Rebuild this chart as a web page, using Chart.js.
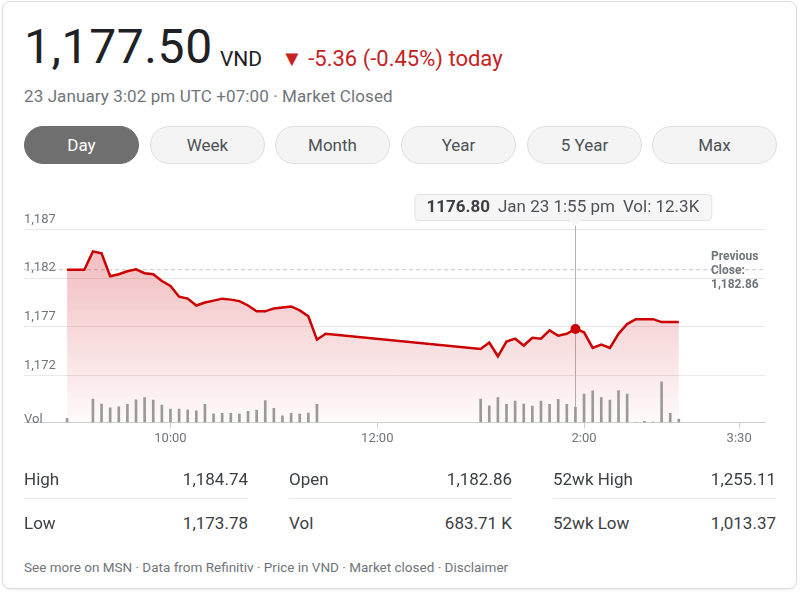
<!DOCTYPE html>
<html>
<head>
<meta charset="utf-8">
<script src="https://cdn.jsdelivr.net/npm/chart.js@4.4.1/dist/chart.umd.min.js"></script>
<style>
  body { margin: 0; width: 800px; height: 593px; background: #fff; font-family: Roboto, sans-serif; position: relative; overflow: hidden; }
  .card { position: absolute; left: 2px; top: 1px; width: 793px; height: 586px; border: 1px solid #dcdcdc; border-radius: 8px; box-shadow: 0 1px 2px rgba(0,0,0,0.08); }
  .price { position: absolute; left: 24px; top: 18px; font-size: 48px; color: #202124; letter-spacing: 0.6px; }
  .cur { position: absolute; left: 220px; top: 47px; font-size: 21px; color: #202124; }
  .chg { position: absolute; left: 281px; top: 46px; font-size: 22px; color: #c5221f; }
  .sub { position: absolute; left: 24px; top: 86px; font-size: 17px; color: #70757a; letter-spacing: 0.1px; }
  .btn { position: absolute; top: 126px; height: 36px; width: 113px; border: 1px solid #e0e0e0; border-radius: 19px; background: #f4f4f4; color: #4d5156; font-size: 17px; text-align: center; line-height: 36px; }
  .btn.on { background: #6f6f6f; border-color: #6f6f6f; color: #fff; }
  #wrap { position: absolute; left: 0; top: 180px; width: 800px; height: 270px; }
  .vol { position: absolute; left: 24px; top: 411px; font-size: 13px; color: #70757a; }
  .prev { position: absolute; left: 711px; top: 249px; font-size: 12px; font-weight: bold; color: #70757a; line-height: 14px; }
  .st { position: absolute; font-size: 17px; color: #3c4043; }
  .r { text-align: right; }
  .sep { position: absolute; top: 498px; height: 1px; background: #ececec; }
  .foot { position: absolute; left: 24px; top: 559px; font-size: 13.5px; color: #70757a; }
</style>
</head>
<body>
<div class="card"></div>
<div class="price">1,177.50</div>
<div class="cur">VND</div>
<div class="chg">&#9660; -5.36 (-0.45%) today</div>
<div class="sub">23 January 3:02 pm UTC +07:00 · Market Closed</div>

<div class="btn on" style="left:24px">Day</div>
<div class="btn" style="left:150px">Week</div>
<div class="btn" style="left:275px">Month</div>
<div class="btn" style="left:401px">Year</div>
<div class="btn" style="left:527px">5 Year</div>
<div class="btn" style="left:652px;width:123px">Max</div>

<div id="wrap"><canvas id="c" width="800" height="270"></canvas></div>
<div class="vol">Vol</div>
<div class="prev">Previous<br>Close:<br>1,182.86</div>

<div class="st" style="left:24px;top:469px">High</div>
<div class="st r" style="left:148px;width:100px;top:469px">1,184.74</div>
<div class="st" style="left:289px;top:469px">Open</div>
<div class="st r" style="left:412px;width:100px;top:469px">1,182.86</div>
<div class="st" style="left:553px;top:469px">52wk High</div>
<div class="st r" style="left:676px;width:100px;top:469px">1,255.11</div>
<div class="sep" style="left:24px;width:224px"></div>
<div class="sep" style="left:289px;width:223px"></div>
<div class="sep" style="left:553px;width:223px"></div>
<div class="st" style="left:24px;top:513px">Low</div>
<div class="st r" style="left:148px;width:100px;top:513px">1,173.78</div>
<div class="st" style="left:289px;top:513px">Vol</div>
<div class="st r" style="left:412px;width:100px;top:513px">683.71 K</div>
<div class="st" style="left:553px;top:513px">52wk Low</div>
<div class="st r" style="left:676px;width:100px;top:513px">1,013.37</div>

<div class="foot">See more on MSN · Data from Refinitiv · Price in VND · Market closed · Disclaimer</div>

<script>
const priceTimes = [
  "9:00", "9:05", "9:10", "9:15", "9:20", "9:25", "9:30", "9:35", "9:40", "9:45",
  "9:50", "9:55", "10:00", "10:05", "10:10", "10:15", "10:20", "10:25", "10:30", "10:35",
  "10:40", "10:45", "10:50", "10:55", "11:00", "11:05", "11:10", "11:15", "11:20", "11:25",
  "11:30",
  "13:00", "13:05", "13:10", "13:15", "13:20", "13:25", "13:30", "13:35", "13:40", "13:45",
  "13:50", "13:55", "14:00", "14:05", "14:10", "14:15", "14:20", "14:25", "14:30", "14:35",
  "14:40", "14:45", "14:50", "14:55",
];
const priceValues = [
  1182.86, 1182.86, 1182.86, 1184.74, 1184.55, 1182.2, 1182.4, 1182.7, 1182.9, 1182.5,
  1182.4, 1181.7, 1181.2, 1180.1, 1179.9, 1179.2, 1179.5, 1179.7, 1179.9, 1179.8,
  1179.65, 1179.2, 1178.6, 1178.6, 1178.9, 1179.0, 1179.1, 1178.7, 1178.1, 1175.7,
  1176.3,
  1174.75, 1175.4, 1174.0, 1175.5, 1175.8, 1175.1, 1175.9, 1175.8, 1176.65, 1176.1,
  1176.3, 1176.8, 1176.45, 1174.85, 1175.2, 1174.85, 1176.3, 1177.3, 1177.8, 1177.8,
  1177.8, 1177.5, 1177.5, 1177.5,
];
// volume in thousands
const volTimes = [
  "9:00", "9:15", "9:20", "9:25", "9:30", "9:35", "9:40", "9:45", "9:50", "9:55",
  "10:00", "10:05", "10:10", "10:15", "10:20", "10:25", "10:30", "10:35", "10:40", "10:45",
  "10:50", "10:55", "11:00", "11:05", "11:10", "11:15", "11:20", "11:25",
  "13:00", "13:05", "13:10", "13:15", "13:20", "13:25", "13:30", "13:35", "13:40", "13:45",
  "13:50", "13:55", "14:00", "14:05", "14:10", "14:15", "14:20", "14:25", "14:30", "14:35",
  "14:40", "14:45", "14:50", "14:55",
];
const volValues = [
  3.3, 19.1, 15.0, 12.0, 12.8, 14.8, 18.5, 20.5, 18.3, 14.2,
  10.9, 10.9, 10.3, 9.5, 14.8, 7.1, 7.4, 7.4, 6.8, 9.0,
  10.1, 18.0, 11.5, 5.4, 7.4, 6.8, 7.6, 14.8,
  19.1, 13.6, 20.5, 14.8, 17.5, 15.0, 13.4, 17.5, 14.8, 18.9,
  14.8, 12.3, 23.2, 25.9, 20.5, 18.3, 26.2, 23.2, 0, 0.8,
  0.3, 33.3, 7.4, 2.7,
];
const previousClose = 1182.86;
const yTicks = [1172, 1177, 1182, 1187];
const xTickTimes = ["10:00", "12:00", "14:00", "15:30"];
const xTickLabels = ["10:00", "12:00", "2:00", "3:30"];
const hoverTime = "13:55";
const hoverLabel = ["1176.80", "Jan 23 1:55 pm", "Vol: 12.3K"];

const toMin = s => { const [h, m] = s.split(":").map(Number); return h * 60 + m; };

const linePts = priceTimes.map((t, i) => ({ x: toMin(t), y: priceValues[i] }));
const volPts = volTimes.map((t, i) => ({ x: toMin(t), y: volValues[i] }));
const hoverIdx = priceTimes.indexOf(hoverTime);
const xMin = toMin("8:35"), xMax = toMin("15:45");

const hoverPlugin = {
  id: "hover",
  beforeDatasetsDraw(chart) {
    const { ctx, chartArea, scales } = chart;
    const x = Math.round(scales.x.getPixelForValue(toMin(hoverTime))) + 0.5;
    ctx.save();
    ctx.strokeStyle = "#b5b5b5";
    ctx.lineWidth = 1;
    ctx.beginPath();
    ctx.moveTo(x, chartArea.top - 6);
    ctx.lineTo(x, chartArea.bottom);
    ctx.stroke();
    ctx.restore();
  },
  afterDraw(chart) {
    const { ctx, chartArea, scales } = chart;
    const x = scales.x.getPixelForValue(toMin(hoverTime));
    const h = 26, top = chartArea.top - 35;
    ctx.save();
    ctx.font = "bold 17px Roboto";
    const w0 = ctx.measureText(hoverLabel[0]).width;
    ctx.font = "17px Roboto";
    const w1 = ctx.measureText(hoverLabel[1]).width;
    const w2 = ctx.measureText(hoverLabel[2]).width;
    const gap = 8, pad = 12;
    const w = pad * 2 + w0 + w1 + w2 + gap * 2;
    const left = x - 161;
    ctx.fillStyle = "#f6f6f6";
    ctx.strokeStyle = "#e2e2e2";
    ctx.lineWidth = 1;
    ctx.beginPath();
    ctx.roundRect(left + 0.5, top + 0.5, w, h, 4);
    ctx.fill();
    ctx.stroke();
    ctx.beginPath();
    ctx.moveTo(x - 6, top + h);
    ctx.lineTo(x, top + h + 6);
    ctx.lineTo(x + 6, top + h);
    ctx.closePath();
    ctx.fill();
    ctx.textBaseline = "middle";
    ctx.fillStyle = "#3c4043";
    ctx.font = "bold 17px Roboto";
    let tx = left + pad;
    const ty = top + h / 2 + 1;
    ctx.fillText(hoverLabel[0], tx, ty);
    tx += w0 + gap;
    ctx.font = "17px Roboto";
    ctx.fillStyle = "#4d5156";
    ctx.fillText(hoverLabel[1], tx, ty);
    tx += w1 + gap;
    ctx.fillText(hoverLabel[2], tx, ty);
    ctx.restore();
  },
};

new Chart("c", {
  type: "line",
  data: {
    datasets: [
      {
        type: "bar",
        data: volPts,
        yAxisID: "yv",
        backgroundColor: "#9a9a9a",
        barThickness: 2,
        order: 0,
      },
      {
        data: linePts,
        yAxisID: "y",
        borderColor: "#cc0000",
        borderWidth: 2.5,
        tension: 0,
        pointRadius: linePts.map((p, i) => (i === hoverIdx ? 5 : 0)),
        pointBackgroundColor: "#cc0000",
        pointBorderWidth: 0,
        fill: "start",
        backgroundColor: (ctx) => {
          const { chart } = ctx;
          const { ctx: c, chartArea } = chart;
          if (!chartArea) return "rgba(204,0,0,0.15)";
          const g = c.createLinearGradient(0, chartArea.top, 0, chartArea.bottom);
          g.addColorStop(0, "rgba(210,30,40,0.32)");
          g.addColorStop(0.3, "rgba(210,30,40,0.24)");
          g.addColorStop(1, "rgba(210,30,40,0.02)");
          return g;
        },
        order: 1,
      },
      {
        data: [{ x: xMin, y: previousClose }, { x: xMax, y: previousClose }],
        yAxisID: "y",
        borderColor: "#c4c4c4",
        borderWidth: 1,
        borderDash: [4, 3],
        pointRadius: 0,
        fill: false,
        order: 2,
      },
    ],
  },
  options: {
    responsive: false,
    animation: false,
    events: [],
    layout: { padding: { left: 24, right: 35, top: 49, bottom: 0 } },
    plugins: { legend: { display: false }, tooltip: { enabled: false } },
    scales: {
      x: {
        type: "linear",
        offset: false,
        min: xMin,
        max: xMax,
        afterBuildTicks: (s) => { s.ticks = xTickTimes.map(t => ({ value: toMin(t) })); },
        ticks: {
          callback: (v) => xTickLabels[xTickTimes.map(toMin).indexOf(v)],
          color: "#70757a",
          font: { family: "Roboto", size: 13 },
          padding: 3,
          maxRotation: 0,
        },
        grid: { drawOnChartArea: false, drawTicks: true, tickLength: 6, color: "#cfcfcf", offset: false },
        border: { display: true, color: "#cfcfcf" },
      },
      y: {
        min: 1167.23,
        max: 1187.03,
        afterBuildTicks: (s) => { s.ticks = yTicks.map(v => ({ value: v })); },
        ticks: {
          mirror: true,
          padding: 0,
          labelOffset: -10,
          color: "#70757a",
          font: { family: "Roboto", size: 13 },
          callback: (v) => v.toLocaleString("en-US"),
        },
        grid: { color: "#e8e8e8", drawTicks: false },
        border: { display: false },
      },
      yv: {
        display: false,
        min: 0,
        max: 159,
      },
    },
  },
  plugins: [hoverPlugin],
});
</script>
</body>
</html>
